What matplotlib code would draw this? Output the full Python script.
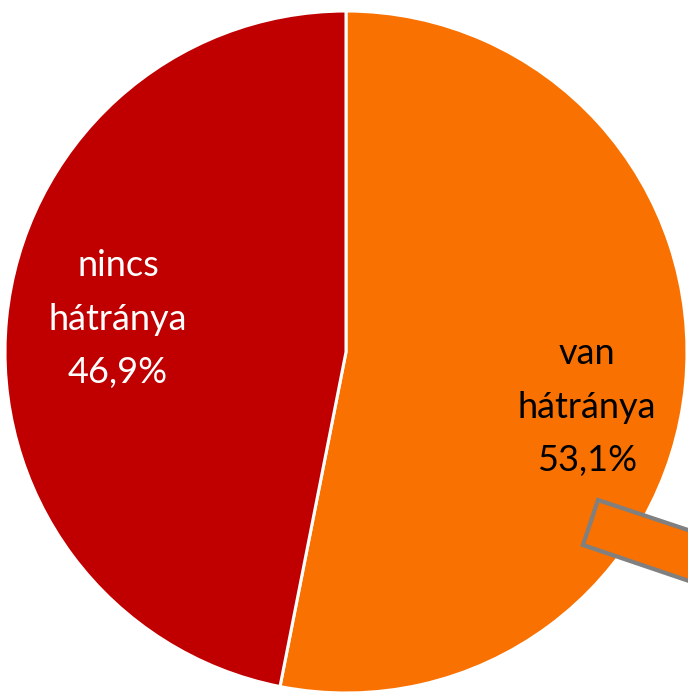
import numpy as np
import matplotlib.pyplot as plt
from matplotlib.patches import Polygon

labels = ['van\nhátránya', 'nincs\nhátránya']
shares = [53.1, 46.9]
colors = ['#F97100', '#C00000']
text_colors = ['black', 'white']

fig = plt.figure(figsize=(6.88, 6.92), dpi=100)
ax = fig.add_axes([0, 0, 1, 1])

cx, cy, r = 346, 340, 341
wedges, texts = ax.pie(shares, colors=colors, startangle=90, counterclock=False,
                       center=(cx, cy), radius=r, frame=True,
                       wedgeprops=dict(edgecolor='white', linewidth=2.2))
ax.set_xlim(0, 688)
ax.set_ylim(0, 692)
ax.axis('off')

# label positions (offset from centre, in pixels)
label_pos = [(241, -55), (-228, 33)]
for lab, val, tc, (dx, dy) in zip(labels, shares, text_colors, label_pos):
    ax.text(cx + dx, cy + dy, lab + '\n' + ('%.1f%%' % val).replace('.', ','),
            ha='center', va='center', color=tc, fontsize=26, family='Lato',
            linespacing=1.75)

# connector box towards the secondary chart (cut off at right edge)
box = Polygon([(598, 692 - 500), (760, 692 - 554), (745, 692 - 600), (583, 692 - 545)],
              closed=True, facecolor='#F97100', edgecolor='#808080', linewidth=3,
              clip_on=False)
ax.add_patch(box)

fig.savefig('out.png', dpi=100)
